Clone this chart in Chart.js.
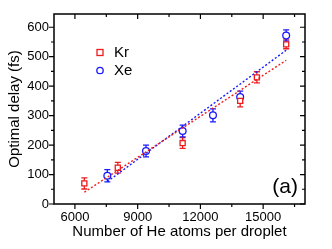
<!DOCTYPE html>
<html>
<head>
<meta charset="utf-8">
<script src="https://cdn.jsdelivr.net/npm/chart.js@4/dist/chart.umd.min.js"></script>
<style>
  html, body { margin: 0; padding: 0; background: #fff; }
  canvas { display: block; }
</style>
</head>
<body>
<canvas id="delayChart" width="332" height="249"></canvas>
<script>
// values
var krAtoms = [6450, 8050, 11150, 13900, 14700, 16100];
var krDelay = [70, 123, 207, 350, 430, 542];
var krError = [19, 18, 18, 20, 19, 15];

var xeAtoms = [7550, 9400, 11150, 12600, 13900, 16100];
var xeDelay = [96, 180, 248, 301, 363, 572];
var xeError = [21, 20, 20, 22, 20, 19];

// linear fits (end points)
var krFitAtoms = [6450, 16100];
var krFitDelay = [40, 488];
var xeFitAtoms = [7550, 16100];
var xeFitDelay = [76, 522];

var xTickLabels = [6000, 9000, 12000, 15000];
var yTickLabels = [0, 100, 200, 300, 400, 500, 600];

var FONT = "'Liberation Sans', Arial, sans-serif";
var RED = '#ee1c1c';
var BLUE = '#1a1aff';

function toPoints(xs, ys) {
    return xs.map(function (x, i) { return { x: x, y: ys[i] }; });
}

// error bars, drawn under the markers
var errorBars = {
    id: 'errorBars',
    beforeDatasetsDraw: function (chart) {
        var ctx = chart.ctx;
        var xs = chart.scales.x, ys = chart.scales.y;
        chart.data.datasets.forEach(function (ds) {
            if (!ds.errors) return;
            ctx.save();
            ctx.strokeStyle = ds.borderColor;
            ctx.lineWidth = 1.3;
            ds.data.forEach(function (p, i) {
                var px = xs.getPixelForValue(p.x);
                var top = ys.getPixelForValue(p.y + ds.errors[i]);
                var bot = ys.getPixelForValue(p.y - ds.errors[i]);
                ctx.beginPath();
                ctx.moveTo(px, top); ctx.lineTo(px, bot);
                ctx.moveTo(px - 3, top); ctx.lineTo(px + 3, top);
                ctx.moveTo(px - 3, bot); ctx.lineTo(px + 3, bot);
                ctx.stroke();
            });
            ctx.restore();
        });
    }
};

// frame, tick marks, legend and panel label
var frame = {
    id: 'frame',
    afterDraw: function (chart) {
        var ctx = chart.ctx;
        var a = chart.chartArea;
        var xs = chart.scales.x, ys = chart.scales.y;
        ctx.save();
        ctx.strokeStyle = '#000';
        ctx.lineWidth = 1.5;
        ctx.strokeRect(a.left, a.top, a.right - a.left, a.bottom - a.top);

        ctx.lineWidth = 1.2;
        ctx.beginPath();
        for (var v = 6000; v <= 16500; v += 1500) {
            var px = xs.getPixelForValue(v);
            var len = v % 3000 === 0 ? 5 : 3;
            ctx.moveTo(px, a.bottom); ctx.lineTo(px, a.bottom + len);
            ctx.moveTo(px, a.top); ctx.lineTo(px, a.top + len);
        }
        for (var w = 0; w <= 600; w += 50) {
            var py = ys.getPixelForValue(w);
            var l = w % 100 === 0 ? 5 : 3;
            ctx.moveTo(a.left, py); ctx.lineTo(a.left - l, py);
            ctx.moveTo(a.right, py); ctx.lineTo(a.right - l, py);
        }
        ctx.stroke();

        // legend
        ctx.lineWidth = 1.3;
        ctx.strokeStyle = RED;
        ctx.strokeRect(97, 49.5, 6, 6);
        ctx.strokeStyle = BLUE;
        ctx.beginPath();
        ctx.arc(100, 70.5, 3.2, 0, Math.PI * 2);
        ctx.stroke();
        ctx.fillStyle = '#000';
        ctx.font = '15px ' + FONT;
        ctx.textBaseline = 'middle';
        ctx.textAlign = 'left';
        ctx.fillText('Kr', 114, 53);
        ctx.fillText('Xe', 114, 71);

        ctx.font = '21px ' + FONT;
        ctx.textAlign = 'right';
        ctx.fillText('(a)', 298, 187);
        ctx.restore();
    }
};

var chart = new Chart(document.getElementById('delayChart'), {
    type: 'scatter',
    data: {
        datasets: [
            {
                label: 'Kr fit', type: 'line', data: toPoints(krFitAtoms, krFitDelay),
                borderColor: RED, borderWidth: 1.4, borderDash: [2, 2], pointRadius: 0, fill: false
            },
            {
                label: 'Xe fit', type: 'line', data: toPoints(xeFitAtoms, xeFitDelay),
                borderColor: BLUE, borderWidth: 1.4, borderDash: [2, 2], pointRadius: 0, fill: false
            },
            {
                label: 'Kr', data: toPoints(krAtoms, krDelay), errors: krError,
                pointStyle: 'rect', pointRadius: 3.6, borderColor: RED, backgroundColor: '#fff', borderWidth: 1.3
            },
            {
                label: 'Xe', data: toPoints(xeAtoms, xeDelay), errors: xeError,
                pointStyle: 'circle', pointRadius: 3.4, borderColor: BLUE, backgroundColor: '#fff', borderWidth: 1.3
            }
        ]
    },
    options: {
        responsive: false,
        animation: false,
        devicePixelRatio: 1,
        layout: { padding: { left: 0, right: 27, top: 14, bottom: 0 } },
        plugins: { legend: { display: false }, tooltip: { enabled: false } },
        scales: {
            x: {
                type: 'linear', min: 5000, max: 17000,
                grid: { display: false, drawTicks: false },
                border: { display: false },
                afterFit: function (s) { s.height = 45; },
                afterBuildTicks: function (s) {
                    s.ticks = xTickLabels.map(function (v) { return { value: v }; });
                },
                ticks: {
                    autoSkip: false, maxRotation: 0, padding: 6,
                    color: '#000', font: { family: FONT, size: 13 },
                    callback: function (v) { return String(v); }
                },
                title: {
                    display: true, text: 'Number of He atoms per droplet', color: '#000',
                    font: { family: FONT, size: 15 }, padding: { top: 0, bottom: 8 }
                }
            },
            y: {
                type: 'linear', min: 0, max: 645,
                grid: { display: false, drawTicks: false },
                border: { display: false },
                afterFit: function (s) { s.width = 54; },
                afterBuildTicks: function (s) {
                    s.ticks = yTickLabels.map(function (v) { return { value: v }; });
                },
                ticks: {
                    autoSkip: false, padding: 5,
                    color: '#000', font: { family: FONT, size: 13 },
                    callback: function (v) { return String(v); }
                },
                title: {
                    display: true, text: 'Optimal delay (fs)', color: '#000',
                    font: { family: FONT, size: 15 }, padding: { top: 6, bottom: 0 }
                }
            }
        }
    },
    plugins: [errorBars, frame]
});
</script>
</body>
</html>
